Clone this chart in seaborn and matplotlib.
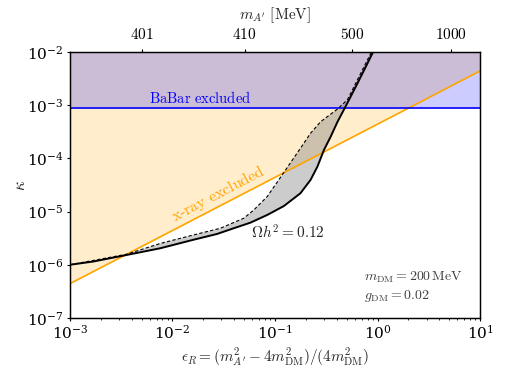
import matplotlib
matplotlib.use("Agg")
import matplotlib.pyplot as plt
import numpy as np
import seaborn as sns
from matplotlib.ticker import NullLocator

# relic density band edges (eps_R, kappa)
EPS_SOLID = [1.0e-3, 1.69e-3, 3.59e-3, 7.59e-3, 0.016, 0.0272, 0.0395, 0.0575, 0.0839,
             0.122, 0.177, 0.222, 0.259, 0.300, 0.349, 0.405, 0.508, 0.637, 0.798, 0.925]
KAPPA_SOLID = [1.0e-6, 1.15e-6, 1.53e-6, 2.04e-6, 2.95e-6, 3.79e-6, 4.85e-6, 6.18e-6, 8.63e-6,
               1.27e-5, 2.21e-5, 3.93e-5, 6.98e-5, 1.44e-4, 2.56e-4, 4.79e-4, 1.10e-3,
               2.58e-3, 6.14e-3, 1.10e-2]
EPS_DASHED = [1.0e-3, 3.59e-3, 7.59e-3, 0.016, 0.0293, 0.0495, 0.0621, 0.0839, 0.122,
              0.177, 0.222, 0.279, 0.405, 0.508, 0.547, 0.685, 0.859, 0.88]
KAPPA_DASHED = [1.0e-6, 1.58e-6, 2.51e-6, 3.63e-6, 4.85e-6, 7.48e-6, 1.07e-5, 1.91e-5, 5.43e-5,
                1.55e-4, 2.96e-4, 4.90e-4, 8.41e-4, 1.26e-3, 1.67e-3, 3.98e-3, 9.46e-3, 1.05e-2]

# exclusion limits
EPS_RANGE = [1e-3, 1e1]
XRAY_KAPPA = [4.4e-7, 4.4e-3]
BABAR_KAPPA = 8.75e-4

M_DM = 200.0
TOP_MASSES = [401, 410, 500, 1000]


def eps_from_mass(m):
    return (np.asarray(m, dtype=float) ** 2 - 4 * M_DM ** 2) / (4 * M_DM ** 2)


sns.set_theme(style="ticks")
plt.rcParams.update({
    "font.family": ["DejaVu Serif"],
    "mathtext.fontset": "cm",
    "axes.edgecolor": "black",
    "axes.linewidth": 0.9,
    "xtick.color": "black",
    "ytick.color": "black",
    "xtick.labelsize": 11,
    "ytick.labelsize": 11,
    "axes.labelsize": 11,
    "xtick.major.size": 2.5,
    "ytick.major.size": 2.5,
    "xtick.minor.size": 1.5,
    "xtick.major.width": 0.8,
    "ytick.major.width": 0.8,
    "xtick.minor.width": 0.6,
    "xtick.major.pad": 2.0,
    "ytick.major.pad": 2.0,
})

fig = plt.figure(figsize=(5.06, 3.79), dpi=100)
ax = fig.add_axes([0.138, 0.161, 0.811, 0.702])
ax.set_xscale("log")
ax.set_yscale("log")
ax.set_xlim(*EPS_RANGE)
ax.set_ylim(1e-7, 1e-2)

# x-ray excluded region
ax.fill_between(EPS_RANGE, XRAY_KAPPA, [1e-2, 1e-2], color="orange", alpha=0.2, lw=0)
sns.lineplot(x=EPS_RANGE, y=XRAY_KAPPA, color="orange", lw=1.2, ax=ax)

# BaBar excluded region
ax.fill_between(EPS_RANGE, [BABAR_KAPPA] * 2, [1e-2, 1e-2], color="blue", alpha=0.2, lw=0)
ax.axhline(BABAR_KAPPA, color="blue", lw=1.2)

# relic band
ax.fill(EPS_SOLID + EPS_DASHED[::-1], KAPPA_SOLID + KAPPA_DASHED[::-1],
        color="gray", alpha=0.4, lw=0)
sns.lineplot(x=EPS_SOLID, y=KAPPA_SOLID, color="black", lw=1.4, sort=False,
             estimator=None, ax=ax)
sns.lineplot(x=EPS_DASHED, y=KAPPA_DASHED, color="black", lw=0.8,
             sort=False, estimator=None, ax=ax)
ax.lines[-1].set_dashes((3, 2))

ax.text(0.0187, 1.34e-3, r"$\mathrm{BaBar\ excluded}$", color="blue",
        fontsize=10.5, ha="center", va="center")
ax.text(0.028, 2.2e-5, r"$\mathrm{x\text{-}ray\ excluded}$", color="orange",
        fontsize=11.5, ha="center", va="center", rotation=27.5, rotation_mode="anchor")
ax.text(0.134, 3.96e-6, r"$\Omega h^2 = 0.12$", fontsize=11, ha="center", va="center")
ax.text(0.735, 5.7e-7, r"$m_{\mathrm{DM}} = 200\,\mathrm{MeV}$", fontsize=10,
        ha="left", va="center", color="0.25")
ax.text(0.735, 2.55e-7, r"$g_{\mathrm{DM}} = 0.02$", fontsize=10,
        ha="left", va="center", color="0.25")

ax.set_xlabel(r"$\epsilon_R = (m_{A'}^2 - 4m_{\mathrm{DM}}^2)/(4m_{\mathrm{DM}}^2)$",
              labelpad=2)
ax.set_ylabel(r"$\kappa$", fontsize=12)
ax.yaxis.set_label_coords(-0.1, 0.5)
ax.yaxis.set_minor_locator(NullLocator())

top = ax.twiny()
top.set_xscale("log")
top.set_xlim(ax.get_xlim())
top.set_xticks(eps_from_mass(TOP_MASSES))
top.set_xticklabels([f"${m}$" for m in TOP_MASSES])
top.xaxis.set_minor_locator(NullLocator())
top.tick_params(axis="x", pad=5)
top.set_xlabel(r"$m_{A'}\ [\mathrm{MeV}]$", labelpad=5)

fig.savefig("out.png", dpi=100)
